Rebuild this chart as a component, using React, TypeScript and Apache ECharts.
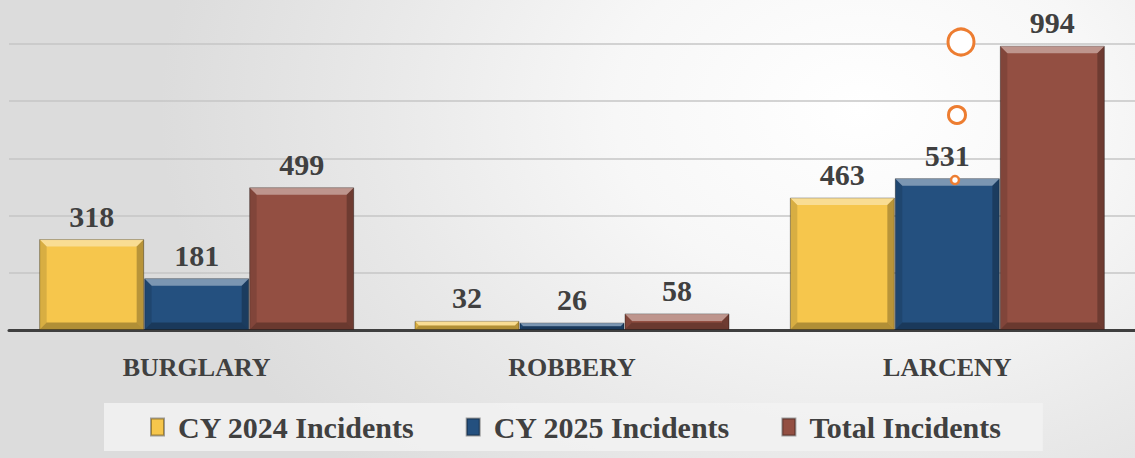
import React, { useEffect, useRef } from "react";
import * as echarts from "echarts";

const categories = ["BURGLARY", "ROBBERY", "LARCENY"];
const seriesNames = ["CY 2024 Incidents", "CY 2025 Incidents", "Total Incidents"];
const cy2024 = [318, 32, 463];
const cy2025 = [181, 26, 531];
const totals = [499, 58, 994];
const yMin = 0;
const yMax = 1000;
const yStep = 200;

const COLORS = ["#f6c64c", "#24507f", "#934f42"];
const BAR_W = 105;
const SERIF = "'Liberation Serif', 'Times New Roman', serif";

export default function App() {
  const ref = useRef<HTMLDivElement>(null);

  useEffect(() => {
    if (!ref.current) return;
    const chart = echarts.init(ref.current, null, { renderer: "svg" });
    const allValues = [cy2024, cy2025, totals];

    const barSeries = allValues.map((vals, i) => ({
      type: "bar",
      name: seriesNames[i],
      data: vals,
      barWidth: BAR_W,
      barGap: "0%",
      z: 2,
      itemStyle: {
        color: COLORS[i],
        borderColor: "rgba(0,0,0,0.35)",
        borderWidth: 1,
      },
      label: {
        show: true,
        position: "top",
        distance: 8,
        fontFamily: SERIF,
        fontWeight: "bold",
        fontSize: 30,
        color: "#404040",
      },
    }));

    const bevelSeries = allValues.map((vals, i) => ({
      type: "custom",
      name: "bevel" + i,
      silent: true,
      z: 3,
      data: vals.map((v, j) => [j, v]),
      renderItem: (params: any, api: any) => {
        const j = api.value(0);
        const v = api.value(1);
        const p0 = api.coord([j, 0]);
        const p1 = api.coord([j, v]);
        const cx = p0[0] + (i - 1) * BAR_W;
        const x0 = cx - BAR_W / 2 + 0.5;
        const x1 = cx + BAR_W / 2 - 0.5;
        const yb = p0[1] - 0.5;
        const yt = p1[1] + 0.5;
        const h = yb - yt;
        const b = Math.max(1, Math.min(7, h / 2));
        const poly = (pts: number[][], fill: string) => ({
          type: "polygon",
          shape: { points: pts },
          style: { fill },
        });
        return {
          type: "group",
          children: [
            poly([[x0, yt], [x1, yt], [x1 - b, yt + b], [x0 + b, yt + b]], "rgba(255,255,255,0.4)"),
            poly([[x0, yb], [x1, yb], [x1 - b, yb - b], [x0 + b, yb - b]], "rgba(0,0,0,0.28)"),
            poly([[x0, yt], [x0 + b, yt + b], [x0 + b, yb - b], [x0, yb]], "rgba(0,0,0,0.12)"),
            poly([[x1, yt], [x1 - b, yt + b], [x1 - b, yb - b], [x1, yb]], "rgba(0,0,0,0.25)"),
          ],
        };
      },
    }));

    chart.setOption({
      animation: false,
      backgroundColor: "transparent",
      grid: { left: 9, top: 44, width: 1134, height: 286 },
      legend: {
        data: seriesNames,
        left: 104,
        top: 403,
        icon: "rect",
        itemWidth: 13,
        itemHeight: 17,
        itemGap: 51,
        backgroundColor: "rgba(242,242,242,0.85)",
        padding: [9, 42, 9, 46],
        textStyle: {
          fontFamily: SERIF,
          fontSize: 30,
          fontWeight: "bold",
          color: "#404040",
          padding: [0, 0, 0, 9],
        },
      },
      xAxis: {
        type: "category",
        data: categories,
        axisTick: { show: false },
        axisLine: { lineStyle: { color: "#3f3f3f", width: 3 } },
        axisLabel: {
          margin: 24,
          fontFamily: SERIF,
          fontWeight: "bold",
          fontSize: 26,
          color: "#404040",
        },
      },
      yAxis: {
        type: "value",
        min: yMin,
        max: yMax,
        interval: yStep,
        axisLabel: { show: false },
        axisLine: { show: false },
        axisTick: { show: false },
        splitLine: { lineStyle: { color: "#c6c6c6", width: 1.5 } },
      },
      graphic: [
        { type: "circle", z: 100, shape: { cx: 961, cy: 42, r: 13 }, style: { fill: "#ffffff", stroke: "#ed7d31", lineWidth: 3 } },
        { type: "circle", z: 100, shape: { cx: 957, cy: 115, r: 8.5 }, style: { fill: "#ffffff", stroke: "#ed7d31", lineWidth: 3 } },
        { type: "circle", z: 100, shape: { cx: 955, cy: 180, r: 4 }, style: { fill: "#ffffff", stroke: "#ed7d31", lineWidth: 2.5 } },
      ],
      series: [...barSeries, ...bevelSeries],
    });

    return () => chart.dispose();
  }, []);

  return (
    <div
      ref={ref}
      style={{
        position: "absolute",
        left: 0,
        top: 0,
        width: 1135,
        height: 458,
        background:
          "radial-gradient(ellipse 700px 520px at 860px 110px, #ffffff 0%, #f7f7f7 35%, #e8e8e8 70%, #dcdcdc 100%)",
      }}
    />
  );
}
